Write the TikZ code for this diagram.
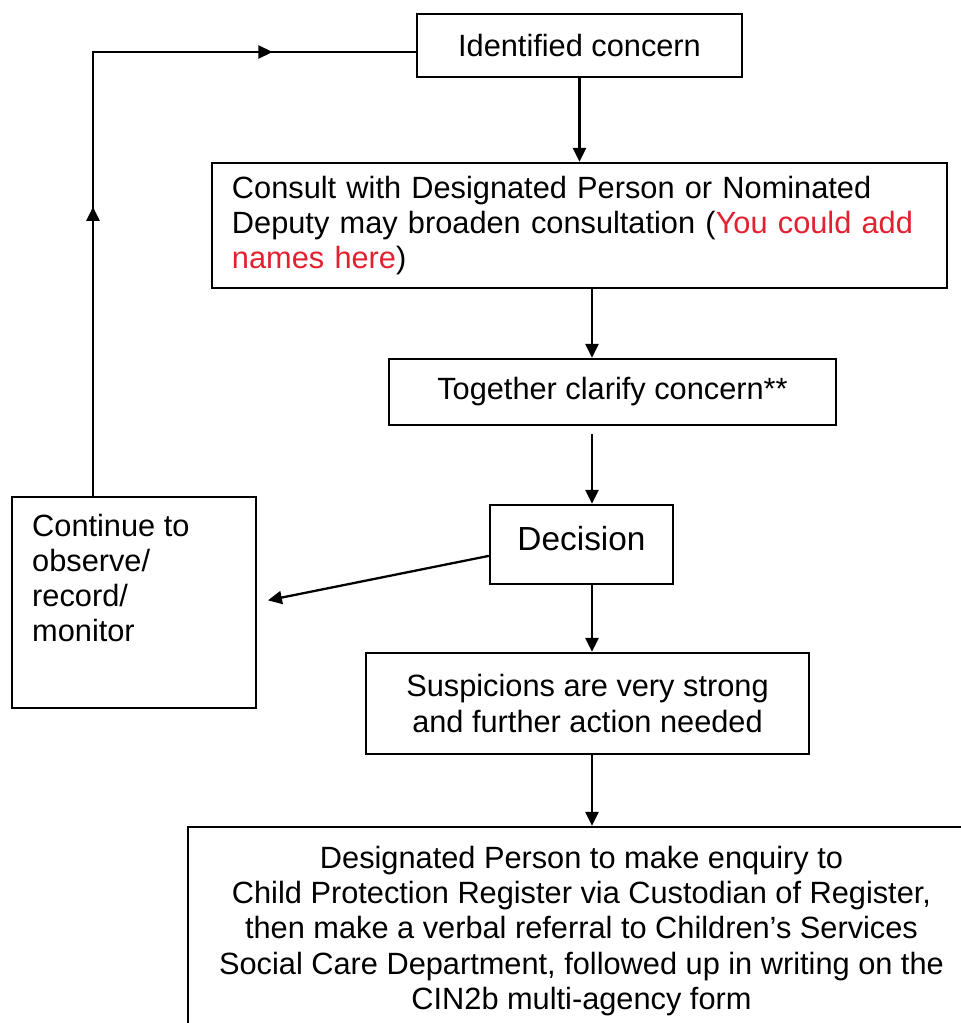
\documentclass[tikz,border=0pt]{standalone}
\usepackage{fontspec}
\setmainfont{Liberation Sans}
\usepackage{tikz}
\usetikzlibrary{
  arrows.meta,
  decorations.markings,
  positioning
}
\definecolor{namered}{RGB}{226,32,48}
\tikzset{
  >={Triangle[length=2.8mm, width=2.6mm]},
  box/.style={rectangle, draw=black, line width=1.3pt, inner sep=0pt,
      minimum width=#1},
  box/.default=4cm,
  flow/.style={->, line width=1.3pt},
  flowline/.style={line width=1.3pt},
  midarrows/.style 2 args={
      postaction=decorate, decoration={
	  markings,
	  mark=at position #1 with {\arrow{>}},
	  mark=at position #2 with {\arrow{>}}
	}
    },
}

\begin{document}
\begin{tikzpicture}[x=0.2mm, y=-0.2mm, font=\fontsize{17.5}{20}\selectfont]
  \useasboundingbox (0,0) rectangle (961,1023);

  \node[box=6.5cm, minimum height=1.26cm] (ident) at (579.5,45.5) {Identified concern};
  \node[box=14.7cm, minimum height=2.5cm, text width=13.9cm, align=left] (consult) at (579.5,225.5)
  {Consult with Designated Person or Nominated\\
    Deputy may broaden consultation (\textcolor{namered}{You could add\\
    names here})};
  \node[box=8.94cm, minimum height=1.32cm] (together) at (612.5,392) {Together clarify concern**};
  \node[box=3.66cm, minimum height=1.58cm, text depth=.26cm,
    font=\fontsize{19}{22}\selectfont] (decision) at (581.5,544.5) {Decision};
  \node[box=8.86cm, minimum height=2.02cm, align=center] (suspicion) at (587.5,703.5)
  {Suspicions are very strong\\ and further action needed};
  \node[box=15.74cm, minimum height=4.16cm, align=center] (referral) at (581.5,931)
  {Designated Person to make enquiry to\\
    Child Protection Register via Custodian of Register,\\
    then make a verbal referral to Children’s Services\\
    Social Care Department, followed up in writing on the\\
    CIN2b multi-agency form};

  \node[box=4.88cm, minimum height=4.22cm] (monitor) at (134,602.5) {};
  \node[anchor=north west, inner sep=0pt, align=left] (monitortext)
  at ([shift={(4.2mm,-3.6mm)}]monitor.north west) {Continue to\\ observe/\\ record/\\ monitor};

  \coordinate (axis) at (592,0);
  \coordinate (corner) at (93,52);

  \draw[flow] (ident.south) -- (consult.north);
  \draw[flow] (consult.south -| axis) -- (together.north -| axis);
  \draw[flow, shorten <=1.6mm] (together.south -| axis) -- (decision.north -| axis);
  \draw[flow] (decision.south -| axis) -- (suspicion.north -| axis);
  \draw[flow] (suspicion.south -| axis) -- (referral.north -| axis);
  \draw[flow, shorten >=2.2mm] (decision.187) -- (monitor.east);

  % back to the start
  \draw[flowline, midarrows={.377}{.813}] (monitor.north -| corner) -- (corner) -- (corner -| ident.west);
\end{tikzpicture}
\end{document}
